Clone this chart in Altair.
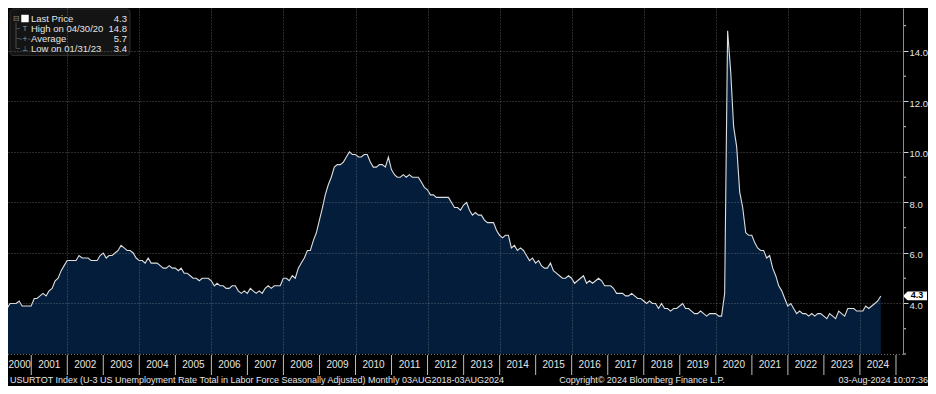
import altair as alt
import pandas as pd

# ---------------- data ----------------
start_year = 2000
# U-3 unemployment rate, monthly, Jan 2000 .. Jul 2024
unemployment_rate = [
    4.0, 4.1, 4.0, 3.8, 4.0, 4.0, 4.0, 4.1, 3.9, 3.9, 3.9, 3.9,   # 2000
    4.2, 4.2, 4.3, 4.4, 4.3, 4.5, 4.6, 4.9, 5.0, 5.3, 5.5, 5.7,   # 2001
    5.7, 5.7, 5.7, 5.9, 5.8, 5.8, 5.8, 5.7, 5.7, 5.7, 5.9, 6.0,   # 2002
    5.8, 5.9, 5.9, 6.0, 6.1, 6.3, 6.2, 6.1, 6.1, 6.0, 5.8, 5.7,   # 2003
    5.7, 5.6, 5.8, 5.6, 5.6, 5.6, 5.5, 5.4, 5.4, 5.5, 5.4, 5.4,   # 2004
    5.3, 5.4, 5.2, 5.2, 5.1, 5.0, 5.0, 4.9, 5.0, 5.0, 5.0, 4.9,   # 2005
    4.7, 4.8, 4.7, 4.7, 4.6, 4.6, 4.7, 4.7, 4.5, 4.4, 4.5, 4.4,   # 2006
    4.6, 4.5, 4.4, 4.5, 4.4, 4.6, 4.7, 4.6, 4.7, 4.7, 4.7, 5.0,   # 2007
    5.0, 4.9, 5.1, 5.0, 5.4, 5.6, 5.8, 6.1, 6.1, 6.5, 6.8, 7.3,   # 2008
    7.8, 8.3, 8.7, 9.0, 9.4, 9.5, 9.5, 9.6, 9.8, 10.0, 9.9, 9.9,  # 2009
    9.8, 9.8, 9.9, 9.9, 9.6, 9.4, 9.4, 9.5, 9.5, 9.4, 9.8, 9.3,   # 2010
    9.1, 9.0, 9.0, 9.1, 9.0, 9.1, 9.0, 9.0, 9.0, 8.8, 8.6, 8.5,   # 2011
    8.3, 8.3, 8.2, 8.2, 8.2, 8.2, 8.2, 8.0, 7.8, 7.8, 7.7, 7.9,   # 2012
    8.0, 7.7, 7.5, 7.6, 7.5, 7.5, 7.3, 7.2, 7.2, 7.2, 6.9, 6.7,   # 2013
    6.6, 6.7, 6.7, 6.2, 6.3, 6.1, 6.2, 6.1, 5.9, 5.7, 5.8, 5.6,   # 2014
    5.7, 5.5, 5.4, 5.4, 5.6, 5.3, 5.2, 5.1, 5.0, 5.0, 5.1, 5.0,   # 2015
    4.8, 4.9, 5.0, 5.1, 4.8, 4.9, 4.8, 4.9, 5.0, 4.9, 4.7, 4.7,   # 2016
    4.7, 4.6, 4.4, 4.4, 4.4, 4.3, 4.3, 4.4, 4.3, 4.2, 4.2, 4.1,   # 2017
    4.0, 4.1, 4.0, 4.0, 3.8, 4.0, 3.8, 3.8, 3.7, 3.8, 3.8, 3.9,   # 2018
    4.0, 3.8, 3.8, 3.7, 3.6, 3.6, 3.7, 3.6, 3.5, 3.6, 3.6, 3.6,   # 2019
    3.5, 3.5, 4.4, 14.8, 13.2, 11.0, 10.2, 8.4, 7.8, 6.8, 6.7, 6.7,  # 2020
    6.4, 6.2, 6.1, 6.1, 5.8, 5.9, 5.4, 5.1, 4.7, 4.5, 4.2, 3.9,   # 2021
    4.0, 3.8, 3.6, 3.7, 3.6, 3.6, 3.5, 3.6, 3.5, 3.6, 3.6, 3.5,   # 2022
    3.4, 3.6, 3.5, 3.4, 3.7, 3.6, 3.5, 3.8, 3.8, 3.8, 3.7, 3.7,   # 2023
    3.7, 3.9, 3.8, 3.9, 4.0, 4.1, 4.3,                           # 2024
]
year_labels = list(range(2000, 2025))
separator_years = list(range(2001, 2026))
grid_years = list(range(2002, 2025, 2))
major_ticks = [4, 6, 8, 10, 12, 14]
minor_ticks = [2, 3, 5, 7, 9, 11, 13, 15]
last_value = 4.3

legend_labels = ["Last Price", "High on 04/30/20", "Average", "Low on 01/31/23"]
legend_values = ["4.3", "14.8", "5.7", "3.4"]
legend_icons = ["", "T", "-+-", "\u22a5"]

footer_left = "USURTOT Index (U-3 US Unemployment Rate Total in Labor Force Seasonally Adjusted)  Monthly 03AUG2018-03AUG2024"
footer_mid = "Copyright\u00a9 2024 Bloomberg Finance L.P."
footer_right = "03-Aug-2024 10:07:36"

# ---------------- build tables ----------------
dates = [
    (pd.Timestamp(start_year, 1, 1) + pd.DateOffset(months=i) + pd.offsets.MonthEnd(0)).strftime("%Y-%m-%d")
    for i in range(len(unemployment_rate))
]
df = pd.DataFrame({"date": dates, "rate": unemployment_rate})

W, H = 895, 346
X_START = pd.Timestamp(2000, 5, 10)
X_END = pd.Timestamp(2025, 3, 13)
Y_DOM = [2.0, 15.7]

FONT = "Liberation Sans, Arial, sans-serif"
NAVY = "#041d3a"
TXT = "#e4e4e4"
GRID = "#9a9a9a"

xs = alt.Scale(domain=[alt.DateTime(year=2000, month=5, date=10),
                       alt.DateTime(year=2025, month=3, date=13)])
ys = alt.Scale(domain=Y_DOM, zero=False, nice=False)

x_axis = alt.Axis(values=[alt.DateTime(year=y, month=1, date=1) for y in grid_years],
                  grid=True, gridColor=GRID, gridOpacity=0.55, gridDash=[1, 2], gridWidth=1,
                  domain=False, ticks=False, labels=False, title=None, zindex=1)
y_axis = alt.Axis(orient="right", values=major_ticks, format=".1f", title=None,
                  grid=True, gridColor=GRID, gridOpacity=0.55, gridDash=[1, 2], gridWidth=1,
                  domain=True, domainColor="#8c8c8c", domainWidth=1,
                  ticks=True, tickColor="#d0d0d0", tickSize=5, tickWidth=1,
                  labelColor=TXT, labelFont=FONT, labelFontSize=9.5, labelPadding=1,
                  labelBaseline="top", labelOffset=-3,
                  zindex=1)

def X(field):
    return alt.X(field, scale=xs, axis=x_axis)

def Y(field):
    return alt.Y(field, scale=ys, axis=y_axis)

def one():
    return alt.Data(values=[{"k": 1}])

layers = []

layers.append(alt.Chart(df).mark_area(color=NAVY, opacity=1, clip=True).encode(
    x=X("date:T"), y=Y("rate:Q"), y2=alt.datum(2.0),
))
layers.append(alt.Chart(df).mark_line(color="#dedede", strokeWidth=1.1, clip=True).encode(
    x=X("date:T"), y=Y("rate:Q"),
))

# minor ticks on the right axis
layers.append(alt.Chart(pd.DataFrame({"v": minor_ticks})).mark_rule(color="#d0d0d0", strokeWidth=1).encode(
    y=Y("v:Q"), x=alt.value(W), x2=alt.value(W + 3),
))

# dotted bottom line
layers.append(alt.Chart(one()).mark_rule(color="#8c8c8c", strokeDash=[1, 2], opacity=0.8).encode(
    x=alt.value(0), x2=alt.value(W), y=alt.value(H + 0.5),
))

# year separators
sep_df = pd.DataFrame({"d": [f"{y}-01-01" for y in separator_years]})
layers.append(alt.Chart(sep_df).mark_rule(color="#bdbdbd", strokeWidth=1).encode(
    x=X("d:T"), y=alt.value(H + 1), y2=alt.value(H + 21),
))

# year labels centred in the visible part of each year
mids = []
for y in year_labels:
    s = max(pd.Timestamp(y, 1, 1), X_START)
    e = min(pd.Timestamp(y + 1, 1, 1), X_END)
    mids.append((s + (e - s) / 2).strftime("%Y-%m-%dT%H:%M:%S"))
ylab_df = pd.DataFrame({"m": mids, "label": [str(y) for y in year_labels]})
layers.append(alt.Chart(ylab_df).mark_text(color=TXT, font=FONT, fontSize=10, baseline="middle").encode(
    x=X("m:T"), y=alt.value(H + 11), text="label:N",
))

# last price tag
tag_df = pd.DataFrame({"v": [last_value], "t": [f"{last_value:.1f}"]})
TAG = "M -1 0 L -0.62 -0.36 L 1 -0.36 L 1 0.36 L -0.62 0.36 Z"
layers.append(alt.Chart(tag_df).mark_point(shape=TAG, filled=True, color="white", opacity=1, size=576, strokeWidth=0).encode(
    x=alt.value(W + 12), y=Y("v:Q"),
))
layers.append(alt.Chart(tag_df).mark_text(color="black", font=FONT, fontSize=9, fontWeight="bold",
                                          align="center", baseline="middle", dy=-0.5).encode(
    x=alt.value(W + 14), y=Y("v:Q"), text="t:N",
))

# legend box
ROW0, ROWSTEP = 10.5, 10.0
BOX_R = 122
layers.append(alt.Chart(one()).mark_rect(fill="#141414", stroke="#2c2c2c", strokeWidth=1, cornerRadius=3).encode(
    x=alt.value(2), x2=alt.value(BOX_R), y=alt.value(1), y2=alt.value(ROW0 + 3 * ROWSTEP + 7),
))
layers.append(alt.Chart(one()).mark_rule(color="#4a4a4a").encode(
    x=alt.value(8), y=alt.value(ROW0 + 4), y2=alt.value(ROW0 + 3 * ROWSTEP),
))
layers.append(alt.Chart(one()).mark_text(color="#8a8a8a", font="DejaVu Sans", fontSize=8, baseline="middle").encode(
    x=alt.value(8), y=alt.value(ROW0), text=alt.value("\u229f"),
))
layers.append(alt.Chart(one()).mark_square(color="white", filled=True, opacity=1, size=56).encode(
    x=alt.value(17), y=alt.value(ROW0),
))
for i, (lab, val, icon) in enumerate(zip(legend_labels, legend_values, legend_icons)):
    yy = ROW0 + i * ROWSTEP
    d = alt.Data(values=[{"lab": lab, "val": val, "icon": icon}])
    layers.append(alt.Chart(d).mark_text(color=TXT, font=FONT, fontSize=9.5, align="left", baseline="middle").encode(
        x=alt.value(23), y=alt.value(yy), text="lab:N"))
    layers.append(alt.Chart(d).mark_text(color=TXT, font=FONT, fontSize=9.5, align="right", baseline="middle").encode(
        x=alt.value(BOX_R - 3), y=alt.value(yy), text="val:N"))
    if icon:
        layers.append(alt.Chart(d).mark_text(color="#9a9a9a", font="DejaVu Sans", fontSize=7, align="center",
                                             baseline="middle").encode(
            x=alt.value(17), y=alt.value(yy), text="icon:N"))
        layers.append(alt.Chart(one()).mark_rule(color="#4a4a4a").encode(
            x=alt.value(8), x2=alt.value(12), y=alt.value(yy)))

# footer
FOOT_Y = H + 26
layers.append(alt.Chart(one()).mark_text(color=TXT, font=FONT, fontSize=9, align="left", baseline="middle").encode(
    x=alt.value(2), y=alt.value(FOOT_Y), text=alt.value(footer_left)))
layers.append(alt.Chart(one()).mark_text(color=TXT, font=FONT, fontSize=9, align="center", baseline="middle").encode(
    x=alt.value(634), y=alt.value(FOOT_Y), text=alt.value(footer_mid)))
layers.append(alt.Chart(one()).mark_text(color=TXT, font=FONT, fontSize=9, align="right", baseline="middle").encode(
    x=alt.value(W + 25), y=alt.value(FOOT_Y), text=alt.value(footer_right)))

chart = alt.layer(*layers).properties(
    width=W, height=H,
    autosize=alt.AutoSizeParams(type="none"),
    padding={"left": 0, "top": 0, "right": 25, "bottom": 32},
    background="#000000",
).configure_view(stroke=None)

chart.save("out.html", embed_options={"renderer": "svg", "actions": False})
